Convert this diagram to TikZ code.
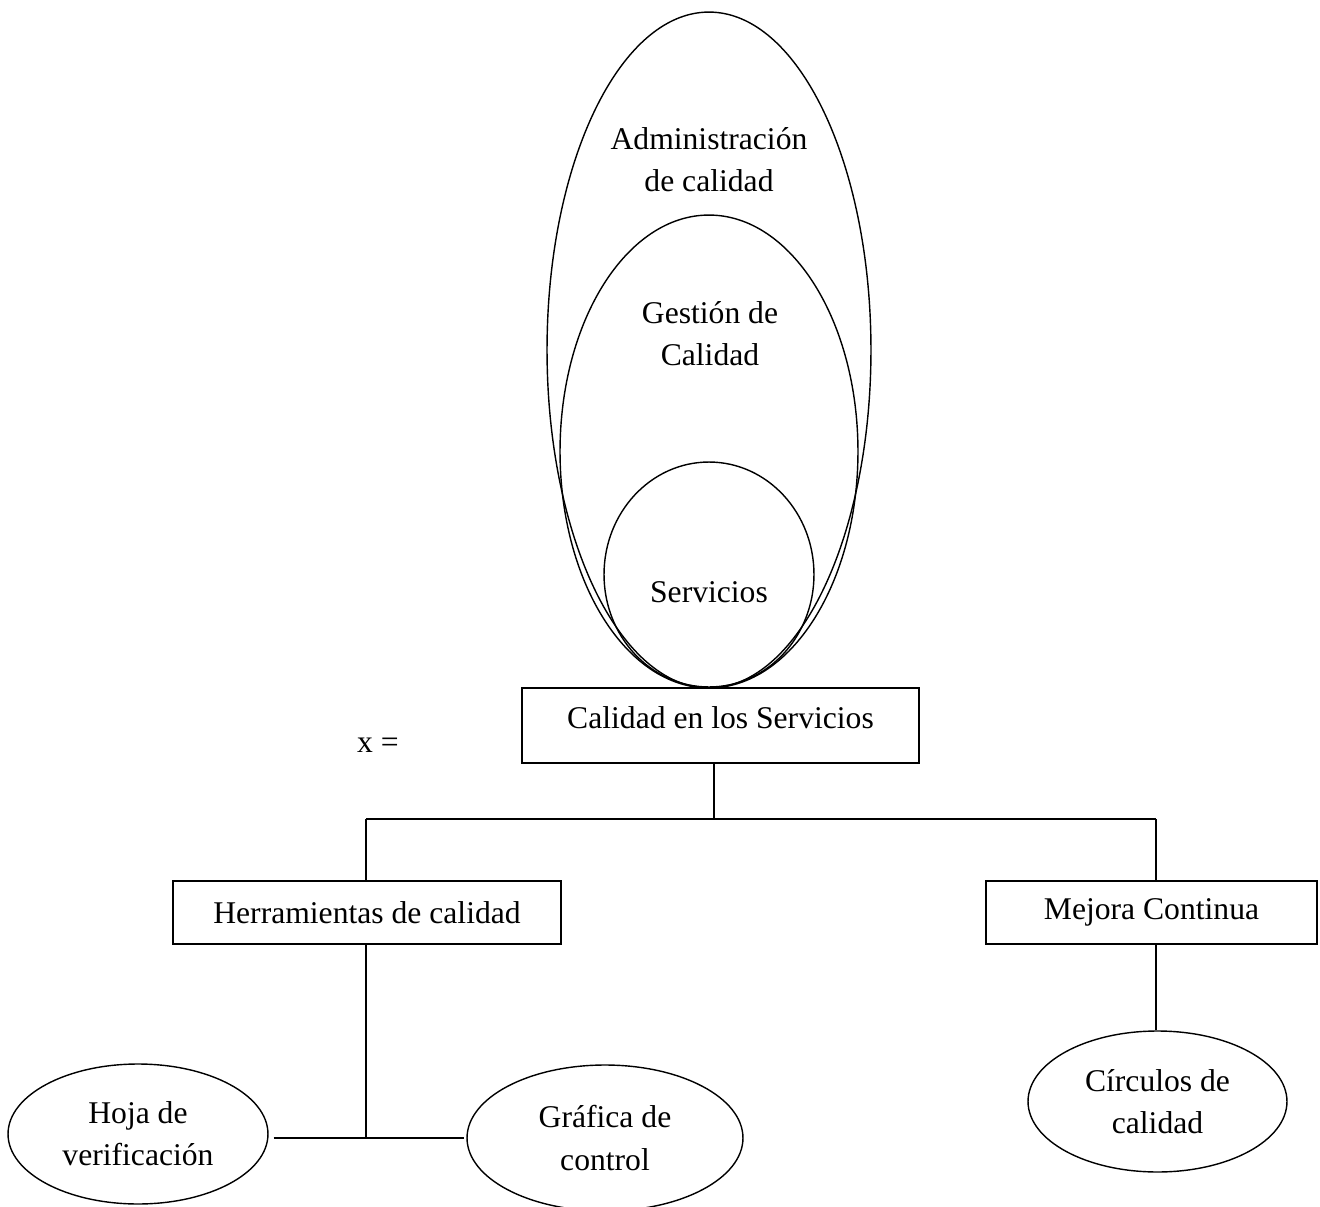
\documentclass[tikz,border=0pt]{standalone}
\usepackage{fontspec}
\setmainfont{Liberation Serif}
\usetikzlibrary{shapes.geometric}
\definecolor{ink}{HTML}{000000}

\begin{document}
\begin{tikzpicture}[x=0.02cm, y=-0.02cm,
    every node/.style={font=\fontsize{18}{24}\selectfont, text=ink},
    oval/.style={draw=ink, line width=0.8pt, ellipse, inner sep=0pt, align=center},
    box/.style={draw=ink, line width=0.8pt, rectangle, inner sep=0pt, align=center},
    link/.style={draw=ink, line width=0.8pt}]
  \useasboundingbox (0, 0) rectangle (1320, 1207);

  % Nested ellipses
  \node[oval, minimum width=6.48cm, minimum height=13.52cm] (admin) at (709, 350) {};
  \node[oval, minimum width=5.96cm, minimum height=9.46cm] (gestion) at (709, 451.5) {};
  \node[oval, minimum width=4.2cm, minimum height=4.5cm] (serv) at (709, 574.5) {};
  \node[align=center] (admintxt) at (709, 160) {Administración\\de calidad};
  \node[align=center] (gesttxt) at (710, 334) {Gestión de\\Calidad};
  \node (servtxt) at (709, 592) {Servicios};

  % Main box
  \node[box, minimum width=7.94cm, minimum height=1.5cm] (cals) at (720.5, 725.5) {};
  \node (calstxt) at (720.5, 718) {Calidad en los Servicios};
  \node (eq) at (378, 745) {x =};

  % Branches
  \node[box, minimum width=7.76cm, minimum height=1.26cm] (herr) at (367, 912.5) {Herramientas de calidad};
  \node[box, minimum width=6.62cm, minimum height=1.26cm] (mejora) at (1151.5, 912.5) {Mejora Continua};

  \coordinate (jtop) at (714, 819);
  \coordinate (jleft) at (366, 819);
  \coordinate (jright) at (1156, 819);
  \draw[link] (cals.south -| jtop) -- (jtop);
  \draw[link] (jleft) -- (jright);
  \draw[link] (jleft) -- (herr.north -| jleft);
  \draw[link] (jright) -- (mejora.north -| jright);

  % Leaves
  \node[oval, minimum width=5.2cm, minimum height=2.8cm] (hoja) at (138, 1134) {Hoja de\\verificación};
  \node[oval, minimum width=5.52cm, minimum height=2.92cm] (grafica) at (605, 1138) {Gráfica de\\control};
  \node[oval, minimum width=5.18cm, minimum height=2.82cm] (circ) at (1157.5, 1101.5) {Círculos de\\calidad};

  \coordinate (jbot) at (366, 1138);
  \draw[link] (herr.south -| jbot) -- (jbot);
  \draw[link, shorten <=0.1cm, shorten >=0.04cm] (hoja.east |- jbot) -- (grafica.west |- jbot);
  \draw[link] (mejora.south -| jright) -- (circ.north -| jright);
\end{tikzpicture}
\end{document}
